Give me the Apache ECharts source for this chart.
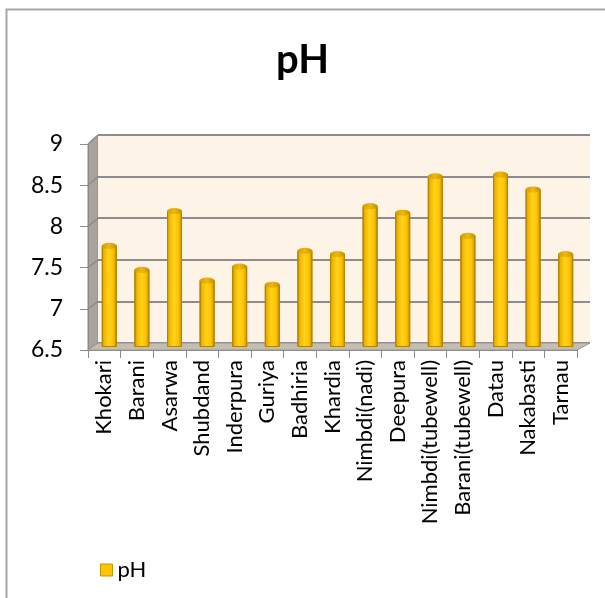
<!DOCTYPE html>
<html>
<head>
<meta charset="utf-8">
<style>
  html, body { margin: 0; padding: 0; background: #ffffff; }
  #chart { width: 605px; height: 598px; }
</style>
<script src="https://cdn.jsdelivr.net/npm/echarts@6/dist/echarts.min.js"></script>
</head>
<body>
<div id="chart"></div>
<script>
// pH readings per sampling site
const sites = ['Khokari', 'Barani', 'Asarwa', 'Shubdand', 'Inderpura', 'Guriya', 'Badhiria', 'Khardia',
  'Nimbdi(nadi)', 'Deepura', 'Nimbdi(tubewell)', 'Barani(tubewell)', 'Datau', 'Nakabasti', 'Tarnau'];
const phValues = [7.72, 7.43, 8.14, 7.30, 7.47, 7.25, 7.66, 7.62, 8.20, 8.12, 8.56, 7.84, 8.58, 8.40, 7.62];
const yTicks = [6.5, 7, 7.5, 8, 8.5, 9];

const yMin = yTicks[0], yMax = yTicks[yTicks.length - 1], yStep = 0.5;

// Pseudo-3D layout: back wall, bar plane (middle depth) and front axis plane
const back = { left: 98, top: 135, width: 492, height: 208 };
const front = { left: 88, top: 144, width: 489, height: 206 };
const mid = { left: 93, top: 139.5, width: 489, height: 207 };

const FONT = 'Lato, "Open Sans", sans-serif';
const chart = echarts.init(document.getElementById('chart'));

function valueAxis(gridIndex, showLabels) {
  return {
    type: 'value', gridIndex, min: yMin, max: yMax, interval: yStep,
    axisLine: { show: showLabels, lineStyle: { color: '#8a8a8a', width: 1 } },
    axisTick: { show: showLabels, length: 8, lineStyle: { color: '#8a8a8a' } },
    axisLabel: {
      show: showLabels, margin: 25, color: '#000', fontSize: 23, fontFamily: FONT,
      formatter: v => String(v)
    },
    splitLine: gridIndex === 0
      ? { show: true, lineStyle: { color: '#8c8c8c', width: 2 } }
      : { show: false }
  };
}

function categoryAxis(gridIndex, showLabels) {
  return {
    type: 'category', gridIndex, data: sites,
    axisLine: { show: showLabels, lineStyle: { color: '#8a8a8a' } },
    axisTick: { show: showLabels, length: 8, lineStyle: { color: '#8a8a8a' } },
    axisLabel: {
      show: showLabels, rotate: 90, margin: 10, interval: 0,
      color: '#000', fontSize: 22, fontFamily: FONT
    },
    splitLine: { show: false }
  };
}

const barGradient = new echarts.graphic.LinearGradient(0, 0, 1, 0, [
  { offset: 0, color: '#C99200' },
  { offset: 0.18, color: '#F2B800' },
  { offset: 0.45, color: '#FFD21C' },
  { offset: 0.75, color: '#FFC400' },
  { offset: 1, color: '#C38C00' }
]);
const capGradient = new echarts.graphic.LinearGradient(0, 0, 1, 0, [
  { offset: 0, color: '#D49C00' },
  { offset: 0.5, color: '#EDB810' },
  { offset: 1, color: '#C49000' }
]);

chart.setOption({
  animation: false,
  backgroundColor: '#ffffff',
  title: {
    text: 'pH', left: 'center', top: 35,
    textStyle: { fontSize: 40, fontWeight: 'bold', color: '#000', fontFamily: FONT }
  },
  legend: {
    left: 95, top: 554, itemWidth: 12, itemHeight: 12, itemGap: 6,
    textStyle: { fontSize: 22, color: '#000', fontFamily: FONT },
    data: [{ name: 'pH', icon: 'rect', itemStyle: { color: '#FFC400', borderColor: '#C99400', borderWidth: 1 } }]
  },
  grid: [
    Object.assign({ show: true, backgroundColor: '#FDF3E6', borderWidth: 0 }, back),
    Object.assign({ show: false }, front),
    Object.assign({ show: false }, mid)
  ],
  xAxis: [categoryAxis(0, false), categoryAxis(1, true), categoryAxis(2, false)],
  yAxis: [valueAxis(0, false), valueAxis(1, true), valueAxis(2, false)],
  series: [
    {
      name: 'pH', type: 'bar', xAxisIndex: 2, yAxisIndex: 2, z: 3,
      data: phValues, barWidth: 15,
      itemStyle: { color: barGradient, borderColor: '#B58400', borderWidth: 1 }
    },
    {
      name: 'cap', type: 'pictorialBar', xAxisIndex: 2, yAxisIndex: 2, z: 4,
      data: phValues, symbol: 'circle', symbolSize: [15, 6],
      symbolPosition: 'end', symbolOffset: [0, '-50%'],
      itemStyle: { color: capGradient, borderColor: '#B58400', borderWidth: 1 },
      tooltip: { show: false }
    },
    {
      name: 'base', type: 'pictorialBar', xAxisIndex: 2, yAxisIndex: 2, z: 2,
      data: phValues, symbol: 'circle', symbolSize: [15, 5],
      symbolPosition: 'start', symbolOffset: [0, '50%'],
      itemStyle: { color: '#E0A800', borderColor: '#B58400', borderWidth: 1 }
    }
  ]
});

// Side wall, floor and frame drawn from the grid geometry
const walls = [];
walls.push({
  type: 'polygon', z: -1, silent: true,
  shape: { points: [
    [front.left, front.top], [back.left, back.top],
    [back.left, back.top + back.height], [front.left, front.top + front.height]
  ] },
  style: { fill: '#A9A39D', stroke: '#8f8a85', lineWidth: 1 }
});
walls.push({
  type: 'polygon', z: 1, silent: true,
  shape: { points: [
    [front.left, front.top + front.height], [back.left, back.top + back.height],
    [back.left + back.width, back.top + back.height], [front.left + front.width, front.top + front.height]
  ] },
  style: { fill: '#C4BDB6', stroke: '#9a9590', lineWidth: 1 }
});
// gridlines continuing across the side wall
yTicks.forEach(v => {
  const pf = chart.convertToPixel({ xAxisIndex: 1, yAxisIndex: 1 }, [0, v]);
  const pb = chart.convertToPixel({ xAxisIndex: 0, yAxisIndex: 0 }, [0, v]);
  walls.push({
    type: 'line', z: 0, silent: true,
    shape: { x1: front.left, y1: pf[1], x2: back.left, y2: pb[1] },
    style: { stroke: '#8c8c8c', lineWidth: 1.5 }
  });
});
walls.push({
  type: 'rect', z: 10, silent: true,
  shape: { x: 6.5, y: 9.5, width: 700, height: 700 },
  style: { fill: null, stroke: '#a6a6a6', lineWidth: 2 }
});
chart.setOption({ graphic: walls });
</script>
</body>
</html>
